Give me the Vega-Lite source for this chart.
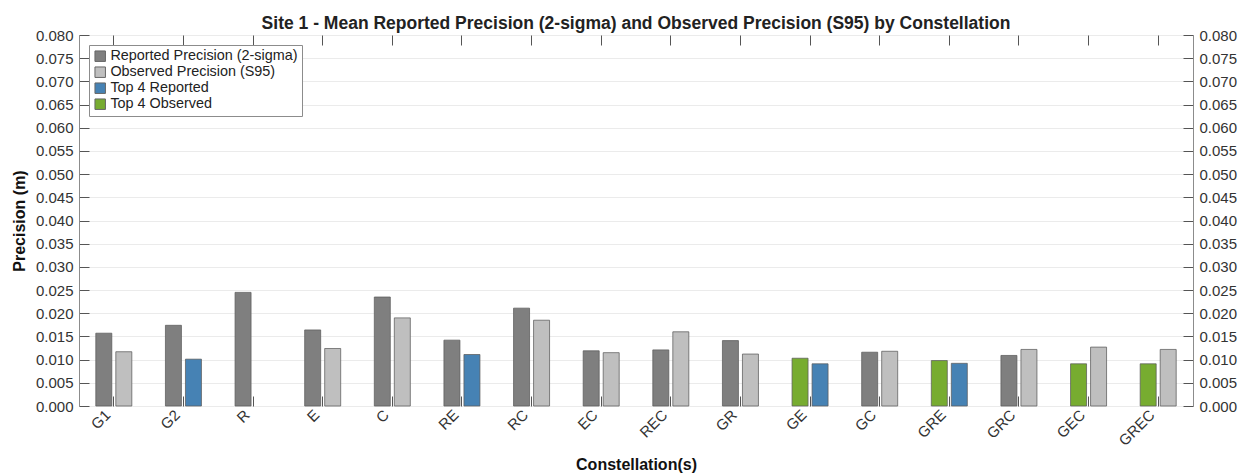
{
  "$schema": "https://vega.github.io/schema/vega-lite/v6.json",
  "width": 1114,
  "height": 371,
  "autosize": {"type": "none"},
  "padding": {"left": 79, "top": 35, "right": 49, "bottom": 70},
  "background": "white",
  "title": {
    "text": "Site 1 - Mean Reported Precision (2-sigma) and Observed Precision (S95) by Constellation",
    "font": "Liberation Sans",
    "fontSize": 17.5,
    "fontWeight": "bold",
    "color": "#222222",
    "anchor": "middle",
    "offset": -4
  },
  "data": {
    "values": [
      {"constellation": "G1", "measure": "Reported", "group": "Reported Precision (2-sigma)", "precision": 0.0157},
      {"constellation": "G1", "measure": "Observed", "group": "Observed Precision (S95)", "precision": 0.0117},
      {"constellation": "G2", "measure": "Reported", "group": "Reported Precision (2-sigma)", "precision": 0.0174},
      {"constellation": "G2", "measure": "Observed", "group": "Top 4 Reported", "precision": 0.0101},
      {"constellation": "R", "measure": "Reported", "group": "Reported Precision (2-sigma)", "precision": 0.0245},
      {"constellation": "E", "measure": "Reported", "group": "Reported Precision (2-sigma)", "precision": 0.0164},
      {"constellation": "E", "measure": "Observed", "group": "Observed Precision (S95)", "precision": 0.0124},
      {"constellation": "C", "measure": "Reported", "group": "Reported Precision (2-sigma)", "precision": 0.0235},
      {"constellation": "C", "measure": "Observed", "group": "Observed Precision (S95)", "precision": 0.0190},
      {"constellation": "RE", "measure": "Reported", "group": "Reported Precision (2-sigma)", "precision": 0.0142},
      {"constellation": "RE", "measure": "Observed", "group": "Top 4 Reported", "precision": 0.0111},
      {"constellation": "RC", "measure": "Reported", "group": "Reported Precision (2-sigma)", "precision": 0.0211},
      {"constellation": "RC", "measure": "Observed", "group": "Observed Precision (S95)", "precision": 0.0185},
      {"constellation": "EC", "measure": "Reported", "group": "Reported Precision (2-sigma)", "precision": 0.0119},
      {"constellation": "EC", "measure": "Observed", "group": "Observed Precision (S95)", "precision": 0.0115},
      {"constellation": "REC", "measure": "Reported", "group": "Reported Precision (2-sigma)", "precision": 0.0121},
      {"constellation": "REC", "measure": "Observed", "group": "Observed Precision (S95)", "precision": 0.0160},
      {"constellation": "GR", "measure": "Reported", "group": "Reported Precision (2-sigma)", "precision": 0.0141},
      {"constellation": "GR", "measure": "Observed", "group": "Observed Precision (S95)", "precision": 0.0112},
      {"constellation": "GE", "measure": "Reported", "group": "Top 4 Observed", "precision": 0.0103},
      {"constellation": "GE", "measure": "Observed", "group": "Top 4 Reported", "precision": 0.0091},
      {"constellation": "GC", "measure": "Reported", "group": "Reported Precision (2-sigma)", "precision": 0.0116},
      {"constellation": "GC", "measure": "Observed", "group": "Observed Precision (S95)", "precision": 0.0118},
      {"constellation": "GRE", "measure": "Reported", "group": "Top 4 Observed", "precision": 0.0098},
      {"constellation": "GRE", "measure": "Observed", "group": "Top 4 Reported", "precision": 0.0092},
      {"constellation": "GRC", "measure": "Reported", "group": "Reported Precision (2-sigma)", "precision": 0.0109},
      {"constellation": "GRC", "measure": "Observed", "group": "Observed Precision (S95)", "precision": 0.0122},
      {"constellation": "GEC", "measure": "Reported", "group": "Top 4 Observed", "precision": 0.0091},
      {"constellation": "GEC", "measure": "Observed", "group": "Observed Precision (S95)", "precision": 0.0127},
      {"constellation": "GREC", "measure": "Reported", "group": "Top 4 Observed", "precision": 0.0091},
      {"constellation": "GREC", "measure": "Observed", "group": "Observed Precision (S95)", "precision": 0.0122}
    ]
  },
  "config": {
    "font": "Liberation Sans",
    "view": {"stroke": "#8c8c8c", "strokeWidth": 1},
    "axis": {
      "labelFont": "Liberation Sans",
      "labelFontSize": 15,
      "labelColor": "#333333",
      "titleFont": "Liberation Sans",
      "titleFontSize": 16,
      "titleFontWeight": "bold",
      "titleColor": "#111111",
      "domainColor": "#8c8c8c",
      "tickColor": "#555555",
      "gridColor": "#ebebeb",
      "gridWidth": 1
    },
    "legend": {
      "labelFont": "Liberation Sans",
      "labelFontSize": 14.4,
      "labelColor": "#222222",
      "labelLimit": 400
    }
  },
  "layer": [
    {
      "mark": {"type": "bar", "stroke": "#5c5c5c", "strokeWidth": 1, "strokeOpacity": 0.75},
      "encoding": {
        "x": {
          "field": "constellation",
          "type": "nominal",
          "sort": ["G1", "G2", "R", "E", "C", "RE", "RC", "EC", "REC", "GR", "GE", "GC", "GRE", "GRC", "GEC", "GREC"],
          "scale": {"paddingInner": 0, "paddingOuter": 0},
          "axis": {
            "orient": "bottom",
            "title": "Constellation(s)",
            "titlePadding": 8,
            "labelAngle": 315,
            "labelAlign": "right",
            "labelBaseline": "middle",
            "labelPadding": 16,
            "labelOffset": -6,
            "tickSize": -10,
            "domain": false
          }
        },
        "xOffset": {
          "field": "measure",
          "type": "nominal",
          "sort": ["Reported", "Observed"],
          "scale": {"paddingInner": 0.2, "paddingOuter": 0.84}
        },
        "y": {
          "field": "precision",
          "type": "quantitative",
          "scale": {"domain": [0, 0.08], "nice": false},
          "axis": {
            "orient": "left",
            "title": "Precision (m)",
            "titlePadding": 8,
            "values": [0, 0.005, 0.01, 0.015, 0.02, 0.025, 0.03, 0.035, 0.04, 0.045, 0.05, 0.055, 0.06, 0.065, 0.07, 0.075, 0.08],
            "format": ".3f",
            "tickSize": -10,
            "labelPadding": 16,
            "grid": true,
            "domain": false
          }
        },
        "color": {
          "field": "group",
          "type": "nominal",
          "scale": {
            "domain": ["Reported Precision (2-sigma)", "Observed Precision (S95)", "Top 4 Reported", "Top 4 Observed"],
            "range": ["#7f7f7f", "#bfbfbf", "#4682b4", "#77ac30"]
          },
          "legend": {
            "title": null,
            "orient": "top-left",
            "offset": 10,
            "symbolType": "square",
            "symbolSize": 110,
            "symbolStrokeColor": "#666666",
            "symbolStrokeWidth": 1,
            "rowPadding": 0,
            "labelOffset": 3,
            "padding": 4,
            "strokeColor": "#8c8c8c",
            "fillColor": "white"
          }
        }
      }
    },
    {
      "mark": {"type": "bar", "opacity": 0},
      "encoding": {
        "x": {
          "field": "constellation",
          "type": "nominal",
          "sort": ["G1", "G2", "R", "E", "C", "RE", "RC", "EC", "REC", "GR", "GE", "GC", "GRE", "GRC", "GEC", "GREC"],
          "scale": {"paddingInner": 0, "paddingOuter": 0},
          "axis": {"orient": "top", "title": null, "labels": false, "tickSize": -10, "domain": false}
        },
        "y": {
          "field": "precision",
          "type": "quantitative",
          "scale": {"domain": [0, 0.08], "nice": false},
          "axis": {
            "orient": "right",
            "title": null,
            "values": [0, 0.005, 0.01, 0.015, 0.02, 0.025, 0.03, 0.035, 0.04, 0.045, 0.05, 0.055, 0.06, 0.065, 0.07, 0.075, 0.08],
            "format": ".3f",
            "tickSize": -10,
            "labelPadding": 16,
            "grid": false,
            "domain": false
          }
        }
      }
    }
  ],
  "resolve": {"axis": {"x": "independent", "y": "independent"}}
}
